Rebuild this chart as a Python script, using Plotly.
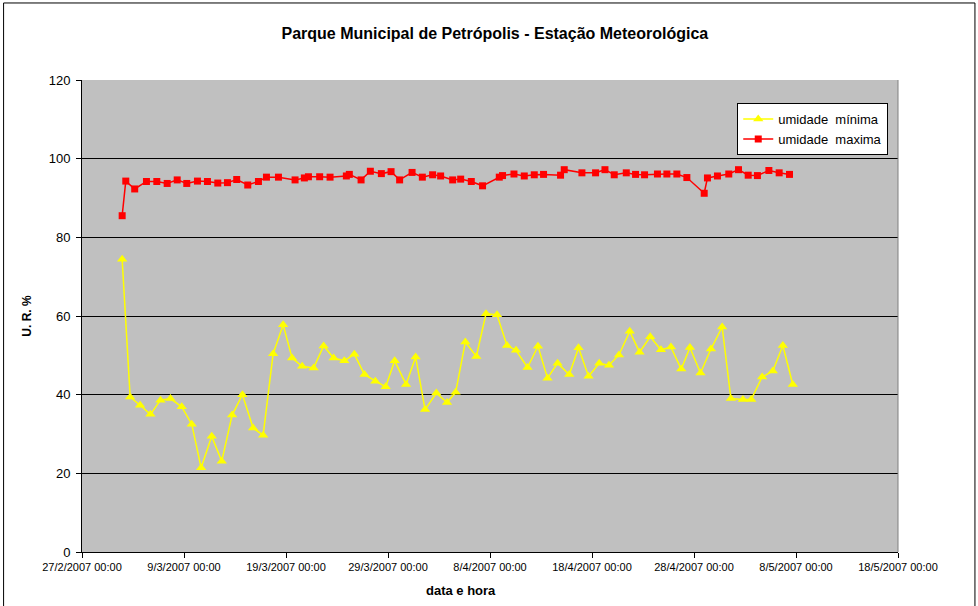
import plotly.graph_objects as go

title = "Parque Municipal de Petrópolis - Estação Meteorológica"
x_title = "data e hora"
y_title = "U. R. %"

max_times = [
    "2007-03-02 22:30", "2007-03-03 07:00", "2007-03-04 04:00", "2007-03-05 07:40", "2007-03-06 08:00",
    "2007-03-07 08:24", "2007-03-08 08:00", "2007-03-09 06:30", "2007-03-10 07:40", "2007-03-11 07:12",
    "2007-03-12 07:30", "2007-03-13 06:15", "2007-03-14 04:00", "2007-03-15 06:00", "2007-03-16 07:12",
    "2007-03-17 02:00", "2007-03-18 06:15", "2007-03-19 21:20", "2007-03-20 19:12", "2007-03-21 04:48",
    "2007-03-22 07:12", "2007-03-23 07:40", "2007-03-24 22:00", "2007-03-25 05:00", "2007-03-26 08:40",
    "2007-03-27 06:30", "2007-03-28 08:24", "2007-03-29 07:12", "2007-03-30 03:20", "2007-03-31 08:40",
    "2007-04-01 08:50", "2007-04-02 09:00", "2007-04-03 03:50", "2007-04-04 08:10", "2007-04-05 03:00",
    "2007-04-06 04:00", "2007-04-07 06:30", "2007-04-08 21:50", "2007-04-09 05:30", "2007-04-10 08:24",
    "2007-04-11 08:40", "2007-04-12 08:10", "2007-04-13 06:00", "2007-04-14 22:00", "2007-04-15 06:40",
    "2007-04-17 00:15", "2007-04-18 08:24", "2007-04-19 06:30", "2007-04-20 04:20", "2007-04-21 08:40",
    "2007-04-22 06:30", "2007-04-23 03:40", "2007-04-24 10:00", "2007-04-25 08:10", "2007-04-26 07:40",
    "2007-04-27 07:12", "2007-04-29 00:00", "2007-04-29 07:40", "2007-04-30 07:12", "2007-05-01 09:50",
    "2007-05-02 08:40", "2007-05-03 07:30", "2007-05-04 05:15", "2007-05-05 08:10", "2007-05-06 08:24",
    "2007-05-07 08:40",
]
max_values = [
    85.5, 94.3, 92.3, 94.2, 94.2, 93.7, 94.6, 93.7, 94.3, 94.2,
    93.8, 93.9, 94.7, 93.3, 94.2, 95.3, 95.3, 94.6, 95.1, 95.4,
    95.4, 95.3, 95.6, 96.0, 94.6, 96.8, 96.2, 96.7, 94.6, 96.5,
    95.3, 95.9, 95.6, 94.6, 94.8, 94.2, 93.1, 95.3, 95.7, 96.1,
    95.6, 95.9, 96.0, 95.8, 97.2, 96.4, 96.4, 97.2, 95.9, 96.4,
    96.0, 95.9, 96.1, 96.1, 96.1, 95.2, 91.2, 95.1, 95.6, 96.1,
    97.2, 95.8, 95.7, 97.0, 96.4, 96.0,
]

min_times = [
    "2007-03-02 22:30", "2007-03-03 17:20", "2007-03-04 16:50", "2007-03-05 17:00", "2007-03-06 16:40",
    "2007-03-07 16:10", "2007-03-08 18:40", "2007-03-09 18:15", "2007-03-10 16:20", "2007-03-11 17:15",
    "2007-03-12 16:50", "2007-03-13 17:15", "2007-03-14 17:30", "2007-03-15 18:40", "2007-03-16 18:15",
    "2007-03-17 17:45", "2007-03-18 17:15", "2007-03-19 14:24", "2007-03-20 14:00", "2007-03-21 17:00",
    "2007-03-22 16:30", "2007-03-23 16:10", "2007-03-24 17:15", "2007-03-25 16:50", "2007-03-26 16:50",
    "2007-03-27 18:15", "2007-03-28 18:30", "2007-03-29 15:40", "2007-03-30 18:30", "2007-03-31 17:00",
    "2007-04-01 15:10", "2007-04-02 17:45", "2007-04-03 19:00", "2007-04-04 15:10", "2007-04-05 14:00",
    "2007-04-06 15:50", "2007-04-07 14:40", "2007-04-08 16:30", "2007-04-09 16:00", "2007-04-10 13:10",
    "2007-04-11 16:20", "2007-04-12 16:50", "2007-04-13 15:20", "2007-04-14 15:00", "2007-04-15 18:30",
    "2007-04-16 16:20", "2007-04-17 15:50", "2007-04-18 17:00", "2007-04-19 15:50", "2007-04-20 15:20",
    "2007-04-21 16:50", "2007-04-22 15:50", "2007-04-23 17:00", "2007-04-24 18:15", "2007-04-25 17:45",
    "2007-04-26 18:00", "2007-04-27 14:24", "2007-04-28 15:20", "2007-04-29 15:50", "2007-04-30 18:15",
    "2007-05-01 14:50", "2007-05-02 19:00", "2007-05-03 14:40", "2007-05-04 16:20", "2007-05-05 17:30",
    "2007-05-06 17:00", "2007-05-07 16:30",
]
min_values = [
    74.4, 39.4, 37.3, 35.0, 38.6, 39.0, 36.9, 32.5, 21.4, 29.4,
    23.1, 34.8, 40.0, 31.5, 29.7, 50.4, 57.8, 49.3, 47.2, 46.8,
    52.4, 49.3, 48.6, 50.3, 45.1, 43.4, 42.0, 48.6, 42.6, 49.6,
    36.2, 40.4, 38.0, 40.6, 53.4, 49.7, 60.6, 60.3, 52.5, 51.3,
    46.9, 52.3, 44.2, 48.0, 45.1, 51.9, 44.7, 48.0, 47.5, 50.1,
    56.1, 50.8, 54.7, 51.4, 52.1, 46.5, 52.0, 45.5, 51.6, 57.2,
    39.0, 38.8, 38.8, 44.5, 46.0, 52.5, 42.6,
]

FONT = "Liberation Sans, Arial, sans-serif"

fig = go.Figure()
fig.add_trace(go.Scatter(
    x=min_times, y=min_values, mode="lines+markers", name="umidade  mínima",
    line=dict(color="#FFFF00", width=1.5),
    marker=dict(symbol="triangle-up", size=9, color="#FFFF00"),
))
fig.add_trace(go.Scatter(
    x=max_times, y=max_values, mode="lines+markers", name="umidade  maxima",
    line=dict(color="#FF0000", width=1.5),
    marker=dict(symbol="square", size=7, color="#FF0000"),
))

fig.update_layout(
    width=978, height=606,
    margin=dict(l=81.5, r=80, t=80, b=54.3, autoexpand=False),
    paper_bgcolor="white",
    plot_bgcolor="#C0C0C0",
    font=dict(family=FONT, size=12, color="black"),
    title=dict(text="<b>" + title + "</b>", x=0.506, xanchor="center", y=0.9455, yanchor="middle",
               font=dict(family=FONT, size=16, color="black")),
    showlegend=True,
    legend=dict(x=0.803, y=0.951, xanchor="left", yanchor="top",
                bgcolor="white", bordercolor="black", borderwidth=1,
                font=dict(family=FONT, size=13, color="black"),
                tracegroupgap=0, itemwidth=30),
    xaxis=dict(
        type="date",
        range=["2007-02-27", "2007-05-18"],
        tick0="2007-02-27", dtick=10 * 86400000,
        tickformat="%-d/%-m/%Y %H:%M",
        ticks="outside", ticklen=5, tickcolor="black",
        showline=True, linecolor="black", linewidth=1,
        showgrid=False, zeroline=False, automargin=False,
        tickfont=dict(family=FONT, size=11, color="black"),
    ),
    yaxis=dict(
        range=[0, 120], dtick=20,
        ticks="outside", ticklen=5, tickcolor="black",
        showline=True, linecolor="black", linewidth=1,
        showgrid=True, gridcolor="#000000", gridwidth=1,
        zeroline=False, automargin=False, ticklabelstandoff=3,
        tickfont=dict(family=FONT, size=13, color="black"),
        title=dict(text="<b>" + y_title + "</b>", font=dict(family=FONT, size=12, color="black"), standoff=14),
    ),
)

fig.add_annotation(text="<b>" + x_title + "</b>", xref="paper", yref="paper",
                   x=0.465, y=-0.081, xanchor="center", yanchor="middle", showarrow=False,
                   font=dict(family=FONT, size=13, color="black"))

# plot-area right border and outer chart border
fig.add_shape(type="line", xref="paper", yref="paper", x0=1, x1=1, y0=0, y1=1,
              line=dict(color="#808080", width=1))
fig.add_shape(type="rect", xref="paper", yref="paper",
              x0=-0.0961, x1=1.0943, y0=-0.117, y1=1.1632,
              line=dict(color="black", width=1))

fig.write_html("out.html", config={"displayModeBar": False},
               post_script="document.body.style.margin='0px';")
